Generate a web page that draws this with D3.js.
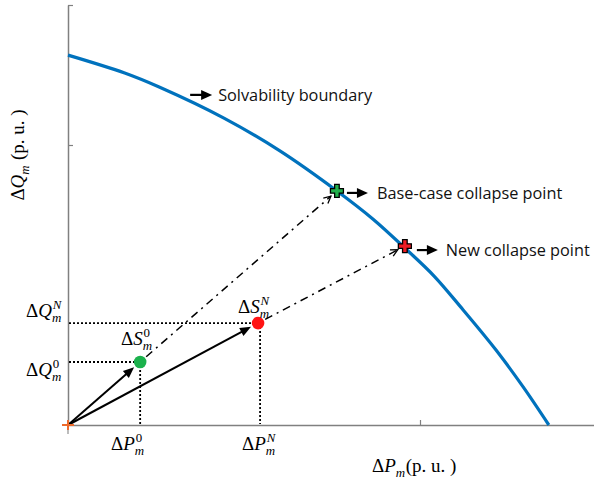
<!DOCTYPE html>
<html><head><meta charset="utf-8">
<script src="https://cdn.jsdelivr.net/npm/d3@7/dist/d3.min.js"></script>
<style>body{margin:0;background:#fff} svg{display:block}</style>
</head><body>
<svg id="c" width="594" height="484"></svg>
<script>
// ---------- data ----------
const boundaryP = [0, 0.161, 0.259, 0.443, 0.602, 0.764, 0.866, 0.963, 1.040, 1.116, 1.216, 1.293, 1.366];
const boundaryQ = [1.321, 1.257, 1.207, 1.096, 0.979, 0.836, 0.736, 0.625, 0.532, 0.421, 0.268, 0.136, 0];
const operatingNames = ["0", "N"];
const operatingP = [0.205, 0.540];
const operatingQ = [0.225, 0.364];
const operatingColors = ["#1bb14c", "#ff1414"];
const collapseP = [0.764, 0.957];
const collapseQ = [0.836, 0.639];
const collapseColors = ["#22b14c", "#ed1c24"];
const collapseTexts = ["Base-case collapse point", "New collapse point"];
const boundaryText = "Solvability boundary";
const xTicks = [1];
const yTicks = [1, 1.5];
const xLabel = "(p. u. )";
const yLabel = " (p. u. )";

// ---------- setup ----------
const SERIF = "'Liberation Serif', 'DejaVu Serif', serif";
const SANS = "'Open Sans', 'Lato', sans-serif";
const svg = d3.select("#c");
const x = d3.scaleLinear().domain([0, 1.5]).range([68, 596]);
const y = d3.scaleLinear().domain([0, 1.5]).range([425, 5]);

// axes
const gx = svg.append("g").attr("transform", `translate(0,${y(0)})`)
  .call(d3.axisBottom(x).tickValues(xTicks).tickSize(-5).tickSizeOuter(0).tickFormat(""));
const gy = svg.append("g").attr("transform", `translate(${x(0)},0)`)
  .call(d3.axisLeft(y).tickValues(yTicks).tickSize(-5).tickSizeOuter(0).tickFormat(""));
[gx, gy].forEach(g => {
  g.selectAll("path.domain").attr("stroke", "#808080").attr("stroke-width", 1.5);
  g.selectAll(".tick line").attr("stroke", "#808080").attr("stroke-width", 1.2);
});
svg.append("line").attr("x1", x(0)).attr("x2", x(0)).attr("y1", y(0) + 5).attr("y2", y(0) + 9)
  .attr("stroke", "#909090").attr("stroke-width", 1.2);

// boundary curve
const line = d3.line().x(d => x(d[0])).y(d => y(d[1])).curve(d3.curveCatmullRom.alpha(0.5));
svg.append("path").datum(boundaryP.map((p, i) => [p, boundaryQ[i]]))
  .attr("d", line).attr("fill", "none").attr("stroke", "#0072bd").attr("stroke-width", 3.2);

// helpers
function arrowHead(x2, y2, ux, uy, len, half, open) {
  const bx = x2 - ux * len, by = y2 - uy * len;
  const px = -uy * half, py = ux * half;
  if (open) {
    svg.append("path").attr("d", `M${bx + px},${by + py}L${x2},${y2}L${bx - px},${by - py}`)
      .attr("fill", "none").attr("stroke", "#000").attr("stroke-width", 1.3);
  } else {
    svg.append("path").attr("d", `M${x2},${y2}L${bx + px},${by + py}L${bx - px},${by - py}Z`).attr("fill", "#000");
  }
}
function plusPath(cx, cy, a, t) {
  return `M${cx - t},${cy - a}H${cx + t}V${cy - t}H${cx + a}V${cy + t}H${cx + t}V${cy + a}H${cx - t}V${cy + t}H${cx - a}V${cy - t}H${cx - t}Z`;
}
// one <text> per math label; super/subscripts stacked with tspans
function mathLabel(px, py, base, sub, sup, supItalic, tail, size, anchor, rot) {
  const t = svg.append("text")
    .attr("transform", `translate(${px},${py})` + (rot ? ` rotate(${rot})` : ""))
    .attr("font-family", SERIF).attr("font-size", size).attr("fill", "#000")
    .attr("text-anchor", anchor || "start");
  t.append("tspan").text("Δ");
  t.append("tspan").attr("font-style", "italic").text(base);
  const ss = size * 0.68;
  const supDy = -size * 0.4, subDy = size * 0.27;
  let supW = 0, subW = 0, cur = 0;
  if (sup) {
    const s = t.append("tspan").attr("font-size", ss).attr("font-style", supItalic ? "italic" : "normal")
      .attr("dx", 0.8).attr("dy", supDy).text(sup);
    supW = s.node().getComputedTextLength() + 0.8;
    cur = supDy;
  }
  if (sub) {
    const s = t.append("tspan").attr("font-size", ss).attr("font-style", "italic")
      .attr("dx", -supW).attr("dy", subDy - cur).text(sub);
    subW = s.node().getComputedTextLength();
    cur = subDy;
  }
  if (tail) {
    const extra = Math.max(0, supW - subW);
    t.append("tspan").attr("dx", extra + 0.5).attr("dy", -cur).text(tail);
  }
  return t;
}

// dotted projections
operatingP.forEach((p, i) => {
  const q = operatingQ[i];
  svg.append("line").attr("x1", x(0) + 1).attr("x2", x(p)).attr("y1", y(q)).attr("y2", y(q))
    .attr("stroke", "#000").attr("stroke-width", 1.8).attr("stroke-dasharray", "2,2");
  svg.append("line").attr("x1", x(p) + (i ? 2 : 0)).attr("x2", x(p) + (i ? 2 : 0)).attr("y1", y(q)).attr("y2", y(0) - 1)
    .attr("stroke", "#000").attr("stroke-width", 1.8).attr("stroke-dasharray", "2,2");
});

// dash-dot lines towards the collapse points
operatingP.forEach((p, i) => {
  const x1 = x(p), y1 = y(operatingQ[i]);
  const x2 = x(collapseP[i]), y2 = y(collapseQ[i]);
  const L = Math.hypot(x2 - x1, y2 - y1), ux = (x2 - x1) / L, uy = (y2 - y1) / L;
  const ex = x2 - ux * 8, ey = y2 - uy * 8;
  svg.append("line").attr("x1", x1 + ux * 8).attr("y1", y1 + uy * 8).attr("x2", ex).attr("y2", ey)
    .attr("stroke", "#000").attr("stroke-width", 1.5).attr("stroke-dasharray", "8,5,2,5");
  arrowHead(ex, ey, ux, uy, 7, 3.5, true);
});

// solid arrows from origin
operatingP.forEach((p, i) => {
  const x1 = x(0), y1 = y(0), x2 = x(p), y2 = y(operatingQ[i]);
  const L = Math.hypot(x2 - x1, y2 - y1), ux = (x2 - x1) / L, uy = (y2 - y1) / L;
  const tx = x2 - ux * 8, ty = y2 - uy * 8;
  svg.append("line").attr("x1", x1).attr("y1", y1).attr("x2", tx - ux * 8).attr("y2", ty - uy * 8)
    .attr("stroke", "#000").attr("stroke-width", 2);
  arrowHead(tx, ty, ux, uy, 11, 4.5, false);
});

// operating points
svg.selectAll("circle.op").data(operatingP).join("circle").attr("class", "op")
  .attr("cx", d => x(d)).attr("cy", (d, i) => y(operatingQ[i])).attr("r", 6.3)
  .attr("fill", (d, i) => operatingColors[i]);

// collapse markers
collapseP.forEach((p, i) => {
  svg.append("path").attr("d", plusPath(x(p), y(collapseQ[i]), 6.5, 2.3))
    .attr("fill", collapseColors[i]).attr("stroke", "#000").attr("stroke-width", 1.3);
});

// origin marker
svg.append("path").attr("d", `M${x(0) - 6},${y(0)}H${x(0) + 6}M${x(0)},${y(0) - 5}V${y(0) + 5}`)
  .attr("stroke", "#ee6a2b").attr("stroke-width", 2);

// annotation arrows + texts
function rightArrow(x1, x2, yy) {
  svg.append("line").attr("x1", x1).attr("x2", x2 - 8).attr("y1", yy).attr("y2", yy)
    .attr("stroke", "#000").attr("stroke-width", 2.2);
  arrowHead(x2, yy, 1, 0, 11, 5, false);
}
const TS = 16.3;
const bAx = x(0.347), bAy = y(1.179);
rightArrow(bAx, bAx + 22, bAy);
svg.append("text").attr("x", bAx + 28).attr("y", bAy + 6).attr("font-family", SANS).attr("font-size", TS)
  .attr("fill", "#111").text(boundaryText);
collapseP.forEach((p, i) => {
  const cx = x(p), cy = y(collapseQ[i]) + (i ? 4 : 2);
  rightArrow(cx + (i ? 12 : 10), cx + (i ? 33 : 31), cy);
  svg.append("text").attr("x", cx + (i ? 41 : 40)).attr("y", cy + 6).attr("font-family", SANS)
    .attr("font-size", TS).attr("fill", "#111").text(collapseTexts[i]);
});

// math labels
const FS = 19;
mathLabel(26, 317, "Q", "m", "N", true, null, FS);
mathLabel(26, 376, "Q", "m", "0", false, null, FS);
mathLabel(238, 313, "S", "m", "N", true, null, FS);
mathLabel(121, 345, "S", "m", "0", false, null, FS);
mathLabel(111, 450, "P", "m", "0", false, null, FS);
mathLabel(242, 450, "P", "m", "N", true, null, FS);
mathLabel(372, 472, "P", "m", null, false, xLabel, FS);
mathLabel(24, 155, "Q", "m", null, false, yLabel, FS, "middle", -90);
</script>
</body></html>
